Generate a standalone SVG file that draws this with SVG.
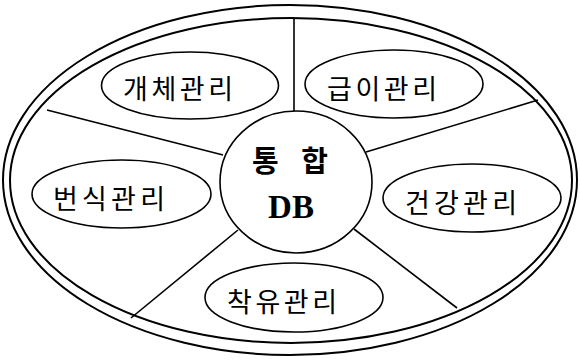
<svg xmlns="http://www.w3.org/2000/svg" width="580" height="360" viewBox="0 0 580 360">
<style>
.ln{fill:none;stroke:#000;stroke-width:1.6}
.ol{fill:none;stroke:#000;stroke-width:2}
.el{fill:#fff;stroke:#000;stroke-width:1.6}
.lb{font-family:"Noto Sans CJK KR","Noto Sans",sans-serif;font-size:27px;fill:#000;text-anchor:middle}
.hd{font-family:"Noto Sans CJK KR","Noto Sans",sans-serif;font-size:29px;font-weight:bold;fill:#000;text-anchor:middle}
.db{font-family:"Liberation Serif",serif;font-size:33px;font-weight:bold;fill:#000;text-anchor:middle}
</style>
<rect width="580" height="360" fill="#fff"/>
<g id="frame">
<ellipse class="ol" cx="290" cy="180" rx="287" ry="175"/>
<ellipse class="ol" cx="291" cy="180.5" rx="281" ry="162.5"/>
</g>
<g id="connectors">
<line class="ln" x1="294" y1="18" x2="294" y2="111"/>
<line class="ln" x1="47" y1="110" x2="223" y2="155"/>
<line class="ln" x1="366" y1="152" x2="538" y2="100"/>
<line class="ln" x1="238" y1="230" x2="131" y2="318"/>
<line class="ln" x1="354" y1="229" x2="457" y2="308"/>
</g>
<g id="center">
<ellipse class="el" cx="296" cy="182" rx="76" ry="71"/>
<text class="hd" x="290" y="172" textLength="76" lengthAdjust="spacing">통 합</text>
<text class="db" x="291" y="218">DB</text>
</g>
<g id="n1">
<ellipse class="el" cx="190" cy="85.5" rx="88.5" ry="33.5"/>
<text class="lb" x="178" y="99" textLength="110" lengthAdjust="spacing">개체관리</text>
</g>
<g id="n2">
<ellipse class="el" cx="394" cy="84" rx="89" ry="34"/>
<text class="lb" x="382" y="99" textLength="110" lengthAdjust="spacing">급이관리</text>
</g>
<g id="n3">
<ellipse class="el" cx="121.5" cy="194" rx="89.5" ry="34"/>
<text class="lb" x="109" y="209" textLength="112" lengthAdjust="spacing">번식관리</text>
</g>
<g id="n4">
<ellipse class="el" cx="472" cy="198" rx="89" ry="34"/>
<text class="lb" x="461" y="213" textLength="112" lengthAdjust="spacing">건강관리</text>
</g>
<g id="n5">
<ellipse class="el" cx="294" cy="297.5" rx="89" ry="34.5"/>
<text class="lb" x="282" y="312" textLength="110" lengthAdjust="spacing">착유관리</text>
</g>
</svg>
